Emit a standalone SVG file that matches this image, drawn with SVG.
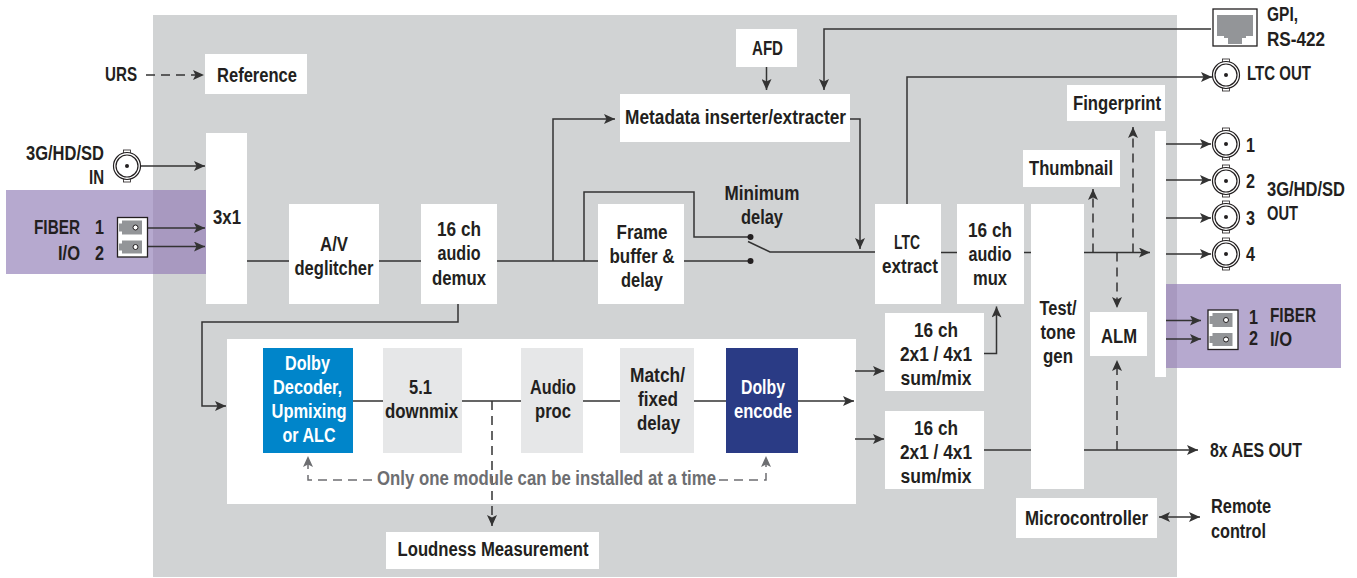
<svg xmlns="http://www.w3.org/2000/svg" width="1357" height="578" viewBox="0 0 1357 578">
<style>
text{font-family:"Liberation Sans",Arial,sans-serif;font-weight:700;font-size:20px;fill:#231f20;text-anchor:middle;transform:translateY(-.5px)}
.l{text-anchor:start}.r{text-anchor:end}
.w{fill:#fff}.g{fill:#6d6e71}
.box{fill:#fff}.mod{fill:#e6e7e8}
.c{fill:none;stroke:#333;stroke-width:1.5}
.a{marker-end:url(#ah)}
.d{stroke-dasharray:9 6}
.dg{fill:none;stroke:#6d6e71;stroke-width:1.5;stroke-dasharray:9 6;marker-end:url(#ahg)}
.bnc circle{fill:none;stroke:#231f20;stroke-width:1.2}
.bnc rect{fill:#fff;stroke:#231f20;stroke-width:.8}
.bnc .dot{fill:#231f20;stroke:none}
</style>
<defs>
<marker id="ah" markerUnits="userSpaceOnUse" markerWidth="12" markerHeight="10" refX="11" refY="5" orient="auto-start-reverse"><path d="M0,0L11,5L0,10L2.500,5z" fill="#333"/></marker>
<marker id="ahg" markerUnits="userSpaceOnUse" markerWidth="12" markerHeight="10" refX="11" refY="5" orient="auto"><path d="M0,0L11,5L0,10L2.500,5z" fill="#6d6e71"/></marker>
<g id="bnc" class="bnc"><rect x="-3.500" y="-16" width="7" height="32"/><circle r="13.500" style="fill:#fff"/><circle r="11"/><circle class="dot" r="2"/></g>
<g id="lc"><rect x="0" y="0" width="30" height="39.500" fill="#fff" stroke="#231f20" stroke-width="1.300"/><path d="M1.500,6h3v-3h20v14h-20v-3h-3zM1.500,26h3v-3h20v13h-20v-3h-3z" fill="#939598"/><g fill="#fff" stroke="#231f20" stroke-width="1"><circle cx="18" cy="10" r="2.500"/><circle cx="18" cy="29.500" r="2.500"/></g></g>
</defs>
<rect id="background" x="153" y="15" width="1024" height="562" fill="#d1d3d4"/>
<g id="fiber-bands">
<rect x="6" y="190" width="200" height="84" fill="#b6a9cf"/><rect x="153" y="190" width="53" height="84" fill="#a899c0"/>
<rect x="1166" y="284" width="175" height="84" fill="#b6a9cf"/><rect x="1166" y="284" width="11" height="84" fill="#a899c0"/>
</g>
<g id="panel"><rect x="227" y="339" width="629" height="165" fill="#fff"/></g>
<g id="connectors">
<path class="c a d" d="M146,75H204"/>
<path class="c a" d="M140,166H205"/>
<path class="c a" d="M147,228H205"/>
<path class="c a" d="M147,246.500H205"/>
<path class="c" d="M247,261H289M379,261H421M497,261H598"/>
<path class="c a" d="M553,261V119H615"/>
<path class="c" d="M584,261V192H694V237H750"/>
<path class="c" d="M684,261H750"/>
<path class="c" d="M748,241.500L770,252H875"/>
<path class="c a" d="M766.500,67V90"/>
<path class="c a" d="M850,119H860V249"/>
<path class="c a" d="M1211,29H824V90"/>
<path class="c a" d="M907,204V77H1212"/>
<path class="c" d="M941,252.500H957"/>
<path class="c" d="M1024,252.500H1031"/>
<path class="c a" d="M1084,252.500H1150"/>
<path class="c a d" d="M1093,252.500V189"/>
<path class="c a d" d="M1133,252.500V127"/>
<path class="c a d" d="M1117,252.500V308"/>
<path class="c a" d="M458,304V322H202V406H226"/>
<path class="c" d="M353,401H383M462,401H521M583,401H620M694,401H726"/>
<path class="c a" d="M798,401H854"/>
<path class="c a" d="M855,371H884"/>
<path class="c a" d="M855,439H884"/>
<path class="c a" d="M984,353.500H996.500V306.500"/>
<path class="c" d="M984,450H1031"/>
<path class="c a" d="M1084,450H1198"/>
<path class="c a d" d="M1117,450V360"/>
<path class="c a d" d="M492,401V526"/>
<path class="c a" style="marker-start:url(#ah)" d="M1159,517H1200"/>
<path class="c a" d="M1166,144H1211"/>
<path class="c a" d="M1166,180H1211"/>
<path class="c a" d="M1166,218H1211"/>
<path class="c a" d="M1166,254H1211"/>
<path class="c a" d="M1166,320.500H1201"/>
<path class="c a" d="M1166,339H1201"/>
<path class="dg" d="M372,480H308V456"/>
<path class="dg" d="M719,480H766V456"/>
<circle cx="750.500" cy="237" r="3" fill="#231f20"/><circle cx="750.500" cy="261" r="3" fill="#231f20"/>
</g>
<g id="n-urs"><text class="r" x="137" y="81" textLength="32" lengthAdjust="spacingAndGlyphs">URS</text></g>
<g id="n-reference"><rect class="box" x="205" y="54" width="102" height="40"/><text x="257" y="82" textLength="80" lengthAdjust="spacingAndGlyphs">Reference</text></g>
<g id="n-in"><text class="r" x="104" y="160" textLength="78" lengthAdjust="spacingAndGlyphs">3G/HD/SD</text><text class="r" x="104" y="184" textLength="15" lengthAdjust="spacingAndGlyphs">IN</text><use href="#bnc" x="127" y="166"/></g>
<g id="n-fiber-in"><text class="r" x="80" y="234" textLength="46" lengthAdjust="spacingAndGlyphs">FIBER</text><text class="r" x="80" y="260" textLength="22" lengthAdjust="spacingAndGlyphs">I/O</text><text class="r" x="104" y="234" textLength="9" lengthAdjust="spacingAndGlyphs">1</text><text class="r" x="104" y="260" textLength="9" lengthAdjust="spacingAndGlyphs">2</text><use href="#lc" x="117.500" y="217.500"/></g>
<g id="n-3x1"><rect class="box" x="206" y="133" width="41" height="171"/><text x="227" y="224" textLength="28" lengthAdjust="spacingAndGlyphs">3x1</text></g>
<g id="n-deglitcher"><rect class="box" x="289" y="204" width="90" height="100"/><text x="334" y="251" textLength="28" lengthAdjust="spacingAndGlyphs">A/V</text><text x="334" y="275" textLength="79" lengthAdjust="spacingAndGlyphs">deglitcher</text></g>
<g id="n-demux"><rect class="box" x="421" y="204" width="76" height="100"/><text x="459" y="236" textLength="44" lengthAdjust="spacingAndGlyphs">16 ch</text><text x="459" y="260" textLength="43" lengthAdjust="spacingAndGlyphs">audio</text><text x="459" y="285" textLength="54" lengthAdjust="spacingAndGlyphs">demux</text></g>
<g id="n-frame"><rect class="box" x="598" y="204" width="86" height="100"/><text x="642" y="239" textLength="51" lengthAdjust="spacingAndGlyphs">Frame</text><text x="642" y="263" textLength="65" lengthAdjust="spacingAndGlyphs">buffer &amp;</text><text x="642" y="287" textLength="42" lengthAdjust="spacingAndGlyphs">delay</text></g>
<g id="n-min"><text x="762" y="200" textLength="75" lengthAdjust="spacingAndGlyphs">Minimum</text><text x="762" y="224" textLength="42" lengthAdjust="spacingAndGlyphs">delay</text></g>
<g id="n-afd"><rect class="box" x="736" y="29" width="61" height="38"/><text x="767.500" y="55" textLength="31" lengthAdjust="spacingAndGlyphs">AFD</text></g>
<g id="n-meta"><rect class="box" x="620" y="94" width="230" height="48"/><text x="735.500" y="124" textLength="221" lengthAdjust="spacingAndGlyphs">Metadata inserter/extracter</text></g>
<g id="n-ltc"><rect class="box" x="875" y="204" width="66" height="100"/><text x="907" y="249" textLength="26" lengthAdjust="spacingAndGlyphs">LTC</text><text x="910" y="273" textLength="56" lengthAdjust="spacingAndGlyphs">extract</text></g>
<g id="n-mux"><rect class="box" x="957" y="204" width="67" height="100"/><text x="990" y="237" textLength="44" lengthAdjust="spacingAndGlyphs">16 ch</text><text x="990" y="261" textLength="43" lengthAdjust="spacingAndGlyphs">audio</text><text x="990" y="285" textLength="34" lengthAdjust="spacingAndGlyphs">mux</text></g>
<g id="n-test"><rect class="box" x="1031" y="204" width="53" height="285"/><text x="1058" y="315" textLength="37" lengthAdjust="spacingAndGlyphs">Test/</text><text x="1058" y="339" textLength="35" lengthAdjust="spacingAndGlyphs">tone</text><text x="1058" y="363" textLength="30" lengthAdjust="spacingAndGlyphs">gen</text></g>
<g id="n-thumb"><rect class="box" x="1023" y="150" width="97" height="37"/><text x="1071" y="175" textLength="84" lengthAdjust="spacingAndGlyphs">Thumbnail</text></g>
<g id="n-finger"><rect class="box" x="1067" y="85" width="98" height="36"/><text x="1117" y="110" textLength="88" lengthAdjust="spacingAndGlyphs">Fingerprint</text></g>
<g id="n-strip"><rect class="box" x="1155" y="131" width="11" height="246"/></g>
<g id="n-alm"><rect class="box" x="1090" y="312" width="57" height="44"/><text x="1119" y="343" textLength="36" lengthAdjust="spacingAndGlyphs">ALM</text></g>
<g id="n-mix1"><rect class="box" x="885" y="313" width="99" height="78"/><text x="936" y="337" textLength="44" lengthAdjust="spacingAndGlyphs">16 ch</text><text x="936" y="361" textLength="72" lengthAdjust="spacingAndGlyphs">2x1 / 4x1</text><text x="936" y="385" textLength="71" lengthAdjust="spacingAndGlyphs">sum/mix</text></g>
<g id="n-mix2"><rect class="box" x="885" y="411" width="99" height="78"/><text x="936" y="435" textLength="44" lengthAdjust="spacingAndGlyphs">16 ch</text><text x="936" y="459" textLength="72" lengthAdjust="spacingAndGlyphs">2x1 / 4x1</text><text x="936" y="483" textLength="71" lengthAdjust="spacingAndGlyphs">sum/mix</text></g>
<g id="n-micro"><rect class="box" x="1016" y="498" width="141" height="40"/><text x="1086.500" y="525" textLength="123" lengthAdjust="spacingAndGlyphs">Microcontroller</text></g>
<g id="n-remote"><text class="l" x="1211" y="513" textLength="60" lengthAdjust="spacingAndGlyphs">Remote</text><text class="l" x="1211" y="538" textLength="55" lengthAdjust="spacingAndGlyphs">control</text></g>
<g id="n-loud"><rect class="box" x="386" y="532" width="213" height="37"/><text x="493" y="556" textLength="191" lengthAdjust="spacingAndGlyphs">Loudness Measurement</text></g>
<g id="n-dolbyd"><rect x="263" y="348" width="90" height="105" fill="#0085ca"/><text class="w" x="307.500" y="370" textLength="45" lengthAdjust="spacingAndGlyphs">Dolby</text><text class="w" x="307.500" y="394" textLength="69" lengthAdjust="spacingAndGlyphs">Decoder,</text><text class="w" x="309" y="418" textLength="75" lengthAdjust="spacingAndGlyphs">Upmixing</text><text class="w" x="309" y="442" textLength="53" lengthAdjust="spacingAndGlyphs">or ALC</text></g>
<g id="n-downmix"><rect class="mod" x="383" y="348" width="79" height="105"/><text x="420.500" y="394" textLength="23" lengthAdjust="spacingAndGlyphs">5.1</text><text x="421.500" y="418" textLength="73" lengthAdjust="spacingAndGlyphs">downmix</text></g>
<g id="n-proc"><rect class="mod" x="521" y="348" width="62" height="105"/><text x="553" y="394" textLength="46" lengthAdjust="spacingAndGlyphs">Audio</text><text x="553" y="418" textLength="36" lengthAdjust="spacingAndGlyphs">proc</text></g>
<g id="n-match"><rect class="mod" x="620" y="348" width="74" height="105"/><text x="657.500" y="382" textLength="55" lengthAdjust="spacingAndGlyphs">Match/</text><text x="658" y="406" textLength="40" lengthAdjust="spacingAndGlyphs">fixed</text><text x="658.500" y="430" textLength="43" lengthAdjust="spacingAndGlyphs">delay</text></g>
<g id="n-dolbye"><rect x="726" y="348" width="72" height="105" fill="#2a3b85"/><text class="w" x="763" y="394" textLength="44" lengthAdjust="spacingAndGlyphs">Dolby</text><text class="w" x="763" y="418" textLength="58" lengthAdjust="spacingAndGlyphs">encode</text></g>
<g id="n-note"><text class="g" x="546.500" y="485" textLength="339" lengthAdjust="spacingAndGlyphs">Only one module can be installed at a time</text></g>
<g id="n-gpi"><rect x="1213" y="9" width="44" height="37" fill="#fff" stroke="#231f20" stroke-width="1.300"/><path d="M1217,15H1253V36H1246V38H1242V44H1228V38H1224V36H1217Z" fill="#939598"/><text class="l" x="1267" y="21" textLength="31" lengthAdjust="spacingAndGlyphs">GPI,</text><text class="l" x="1267" y="46" textLength="58" lengthAdjust="spacingAndGlyphs">RS-422</text></g>
<g id="n-ltcout"><use href="#bnc" x="1226" y="75"/><text class="l" x="1247" y="80" textLength="64" lengthAdjust="spacingAndGlyphs">LTC OUT</text></g>
<g id="n-out1"><use href="#bnc" x="1226" y="144"/><text class="l" x="1246" y="152" textLength="9" lengthAdjust="spacingAndGlyphs">1</text></g>
<g id="n-out2"><use href="#bnc" x="1226" y="181"/><text class="l" x="1246" y="188" textLength="9" lengthAdjust="spacingAndGlyphs">2</text></g>
<g id="n-out3"><use href="#bnc" x="1226" y="217"/><text class="l" x="1246" y="225" textLength="9" lengthAdjust="spacingAndGlyphs">3</text></g>
<g id="n-out4"><use href="#bnc" x="1226" y="254"/><text class="l" x="1246" y="261" textLength="9" lengthAdjust="spacingAndGlyphs">4</text></g>
<g id="n-outlabel"><text class="l" x="1267" y="196" textLength="78" lengthAdjust="spacingAndGlyphs">3G/HD/SD</text><text class="l" x="1267" y="220" textLength="31" lengthAdjust="spacingAndGlyphs">OUT</text></g>
<g id="n-fiberout"><use href="#lc" x="1208" y="310"/><text class="l" x="1249" y="324" textLength="9" lengthAdjust="spacingAndGlyphs">1</text><text class="l" x="1249" y="345" textLength="9" lengthAdjust="spacingAndGlyphs">2</text><text class="l" x="1270" y="322" textLength="46" lengthAdjust="spacingAndGlyphs">FIBER</text><text class="l" x="1270" y="346" textLength="22" lengthAdjust="spacingAndGlyphs">I/O</text></g>
<g id="n-aes"><text class="l" x="1210" y="457" textLength="92" lengthAdjust="spacingAndGlyphs">8x AES OUT</text></g>
</svg>
